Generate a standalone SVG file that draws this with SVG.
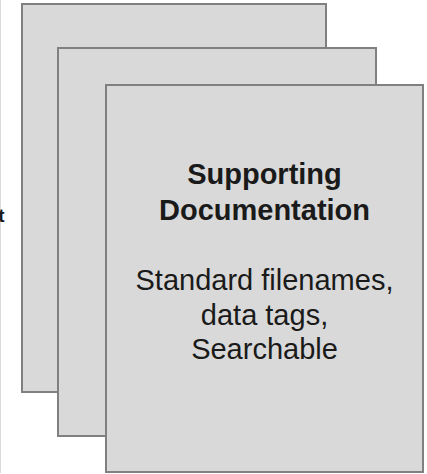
<svg xmlns="http://www.w3.org/2000/svg" width="427" height="474" viewBox="0 0 427 474">
  <style>
    .page { fill: #d9d9d9; stroke: #808080; stroke-width: 2; }
    .title { font-family: "Liberation Sans", Arial, sans-serif; font-weight: bold; font-size: 29px; fill: #1a1a1a; text-anchor: middle; }
    .body { font-family: "Liberation Sans", Arial, sans-serif; font-size: 29px; fill: #1a1a1a; text-anchor: middle; }
    .edge { font-family: "Liberation Sans", Arial, sans-serif; font-weight: bold; font-size: 19px; fill: #1a1a1a; text-anchor: end; }
  </style>
  <rect x="0" y="0" width="427" height="474" fill="#ffffff"/>
  <line x1="0.5" y1="0" x2="0.5" y2="473" stroke="#d9d9d9" stroke-width="1"/>
  <text class="edge" x="4.5" y="221.5">t</text>
  <g id="page-back">
    <rect class="page" x="22" y="4" width="304" height="388"/>
  </g>
  <g id="page-middle">
    <rect class="page" x="58" y="48" width="318" height="388"/>
  </g>
  <g id="page-front">
    <rect class="page" x="106" y="85" width="317" height="387"/>
    <text class="title" x="264.5" y="184">Supporting</text>
    <text class="title" x="264.5" y="220">Documentation</text>
    <text class="body" x="264.5" y="290">Standard filenames,</text>
    <text class="body" x="264.5" y="324.5">data tags,</text>
    <text class="body" x="264.5" y="359">Searchable</text>
  </g>
  <g id="connectors"></g>
</svg>
